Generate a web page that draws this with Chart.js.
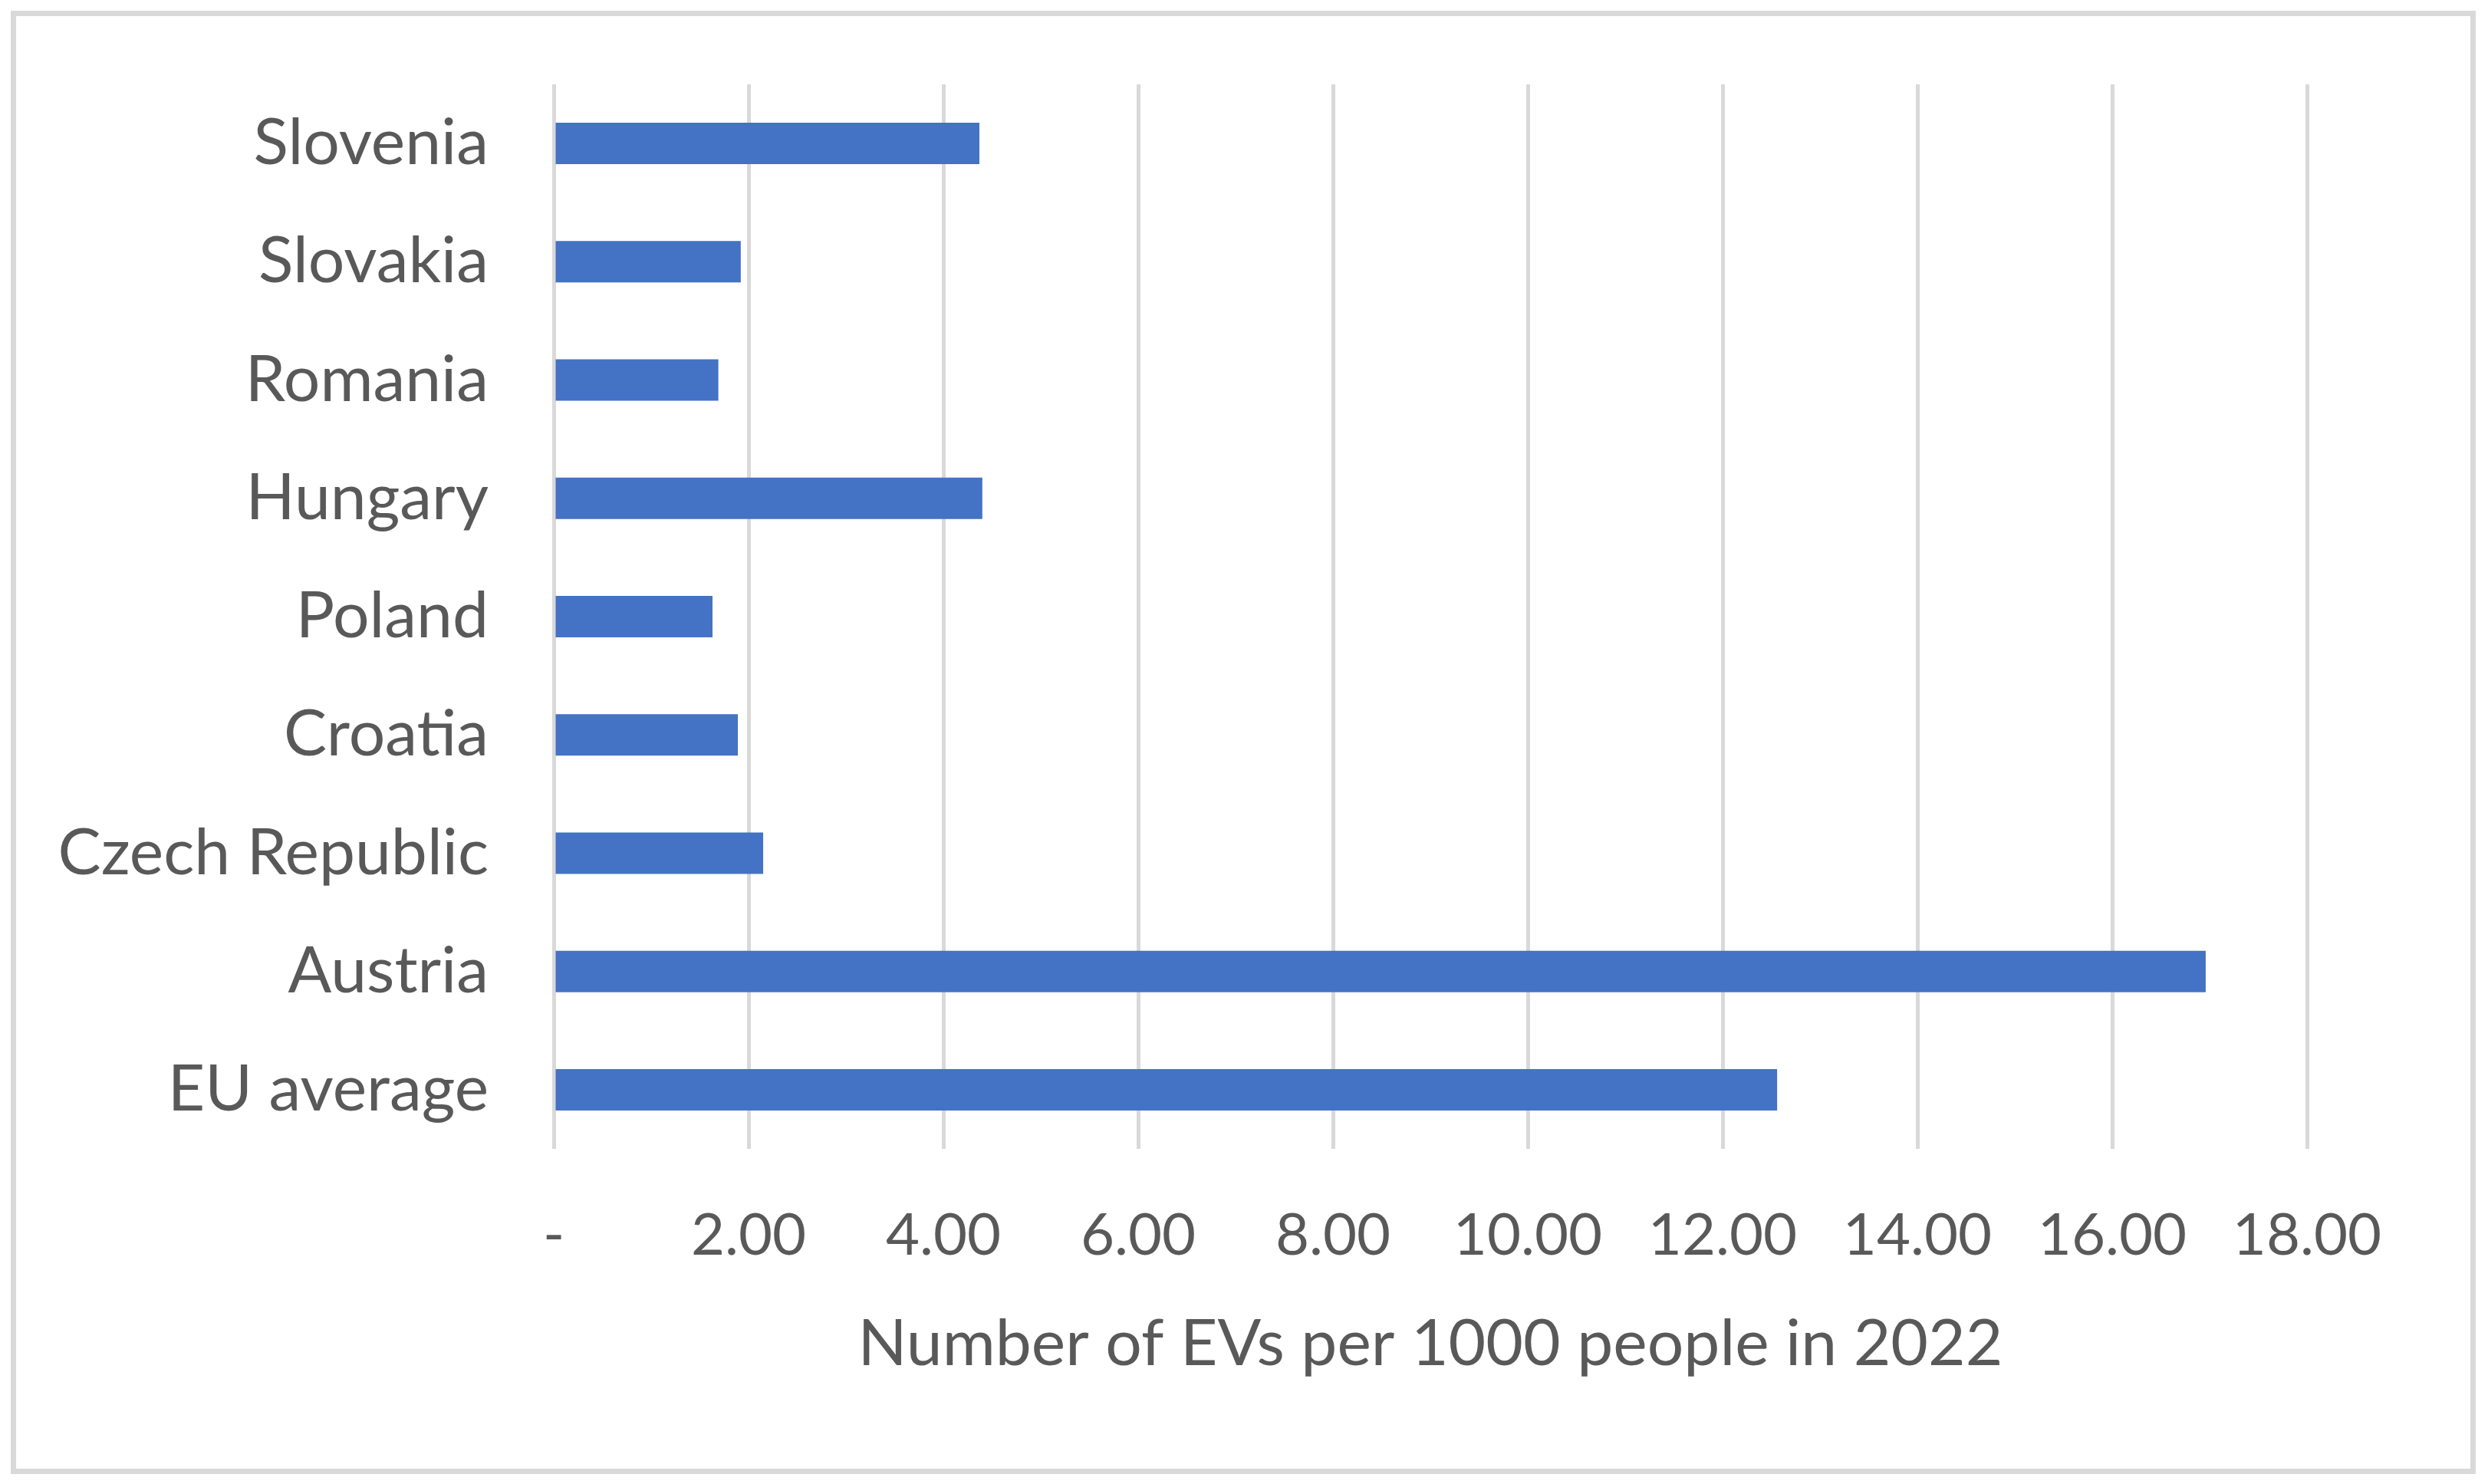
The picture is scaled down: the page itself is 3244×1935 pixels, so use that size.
<!DOCTYPE html>
<html>
<head>
<meta charset="utf-8">
<script src="https://cdn.jsdelivr.net/npm/chart.js@4.4.1/dist/chart.umd.min.js"></script>
<style>
  html, body { margin: 0; padding: 0; background: #ffffff; }
  #frame {
    position: absolute; left: 14px; top: 14px; width: 3214px; height: 1908px;
    box-sizing: border-box; border: 7px solid #d9d9d9;
  }
  #chart { position: absolute; left: 0; top: 0; }
</style>
</head>
<body>
<div id="frame"></div>
<canvas id="chart" width="3244" height="1935"></canvas>
<script>
// countries, top to bottom as in the picture
const countries = ["Slovenia", "Slovakia", "Romania", "Hungary", "Poland",
                   "Croatia", "Czech Republic", "Austria", "EU average"];
// EVs per 1000 people, 2022
const evsPer1000 = [4.37, 1.92, 1.69, 4.40, 1.63, 1.89, 2.15, 16.96, 12.56];
// x axis tick labels (Excel accounting style, zero shown as "-")
const tickLabels = ["-", "2.00", "4.00", "6.00", "8.00", "10.00",
                    "12.00", "14.00", "16.00", "18.00"];
const axisTitle = "Number of EVs per 1000 people in 2022";

const textColor = "#595959";
const fontFamily = "Lato, 'Open Sans', sans-serif";

const chart = new Chart(document.getElementById("chart").getContext("2d"), {
  type: "bar",
  data: {
    labels: countries,
    datasets: [{
      data: evsPer1000,
      backgroundColor: "#4472c4",
      borderWidth: 0,
      barPercentage: 0.35,
      categoryPercentage: 1.0
    }]
  },
  options: {
    indexAxis: "y",
    responsive: false,
    devicePixelRatio: 1,
    animation: false,
    layout: { padding: { top: 110, right: 236, bottom: 0, left: 0 } },
    plugins: {
      legend: { display: false },
      tooltip: { enabled: false }
    },
    scales: {
      x: {
        min: 0,
        max: 18,
        border: { display: false },
        grid: { color: "#d9d9d9", lineWidth: 5, drawTicks: false },
        ticks: {
          stepSize: 2,
          padding: 68,
          color: textColor,
          font: { family: fontFamily, size: 76 },
          callback: (value, index) => tickLabels[index]
        },
        title: {
          display: true,
          text: axisTitle,
          color: textColor,
          font: { family: fontFamily, size: 84 },
          padding: { top: 0, bottom: 132 }
        },
        afterFit: (scale) => { scale.height = 437; }
      },
      y: {
        border: { display: false },
        grid: { display: false, drawTicks: false },
        ticks: {
          padding: 85,
          color: textColor,
          font: { family: fontFamily, size: 84 }
        },
        afterFit: (scale) => {
          scale.width = 722;
          // keep the tick padding from pushing the plot area down
          scale.paddingTop = 0;
          scale.paddingBottom = 0;
        }
      }
    }
  }
});
</script>
</body>
</html>
